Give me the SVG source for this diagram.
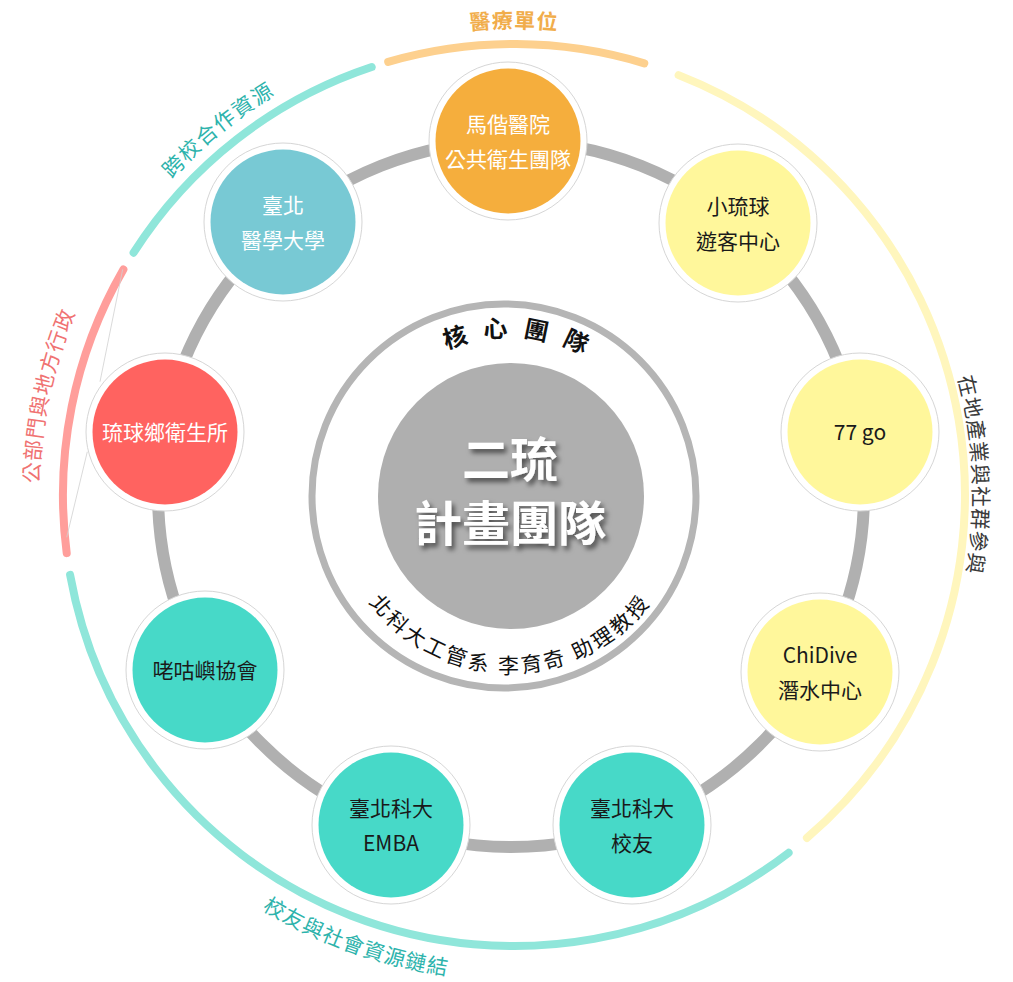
<svg xmlns="http://www.w3.org/2000/svg" width="1013" height="982" viewBox="0 0 1013 982">
<style>
text { font-family: "Noto Sans CJK TC", "Noto Sans CJK SC", "Noto Sans", sans-serif; }
.halo { fill:#ffffff; stroke:#d6d6d6; stroke-width:1; }
.nt { font-size:21px; text-anchor:middle; }
.w { fill:#ffffff; }
.d { fill:#1a1a1a; }
.arc { fill:none; stroke-width:8; stroke-linecap:round; }
.lbl { font-size:21px; letter-spacing:1px; }
</style>
<defs>
<filter id="sh" x="-20%" y="-20%" width="140%" height="150%">
<feDropShadow dx="3" dy="4" stdDeviation="2.5" flood-color="#000" flood-opacity="0.55"/>
</filter>
<path id="pTop" d="M354.3,56.2 A467,467 0 0 1 673.7,56.2"/>
<path id="pTL" d="M76.1,335.6 A466,466 0 0 1 449.1,33.5"/>
<path id="pL" d="M67.6,657.5 A475,475 0 0 1 172.3,165.0"/>
<path id="pR" d="M911.5,265.5 A459,459 0 0 1 930.0,689.0"/>
<path id="pB" d="M142.5,806.8 A485,485 0 0 0 604.9,971.4"/>
<path id="pCore" d="M378.3,406.2 A160,160 0 0 1 654.5,428.4"/>
<path id="pProf" d="M344.6,557.2 A176,176 0 0 0 675.4,557.2"/>
</defs>

<g id="outer-arcs">
<path class="arc" stroke="#fdd08e" d="M388.2,61.9 A451,451 0 0 1 644.3,63.3"/>
<path class="arc" stroke="#fff6bd" d="M678.6,75.1 A451,451 0 0 1 806.9,837.9"/>
<path class="arc" stroke="#8fe6da" d="M788.6,852.8 A451,451 0 0 1 70.1,574.9"/>
<path class="arc" stroke="#ff9e9b" d="M66.7,553.1 A451,451 0 0 1 123.4,269.5"/>
<path class="arc" stroke="#8fe6da" d="M133.6,252.7 A451,451 0 0 1 371.7,67.0"/>
<line x1="122.7" y1="269.3" x2="100" y2="381.7" stroke="#d0d0d0" stroke-width="0.8"/>
<line x1="87.3" y1="451.7" x2="66.7" y2="537.3" stroke="#d0d0d0" stroke-width="0.8"/>
</g>

<g id="outer-labels">
<text class="lbl" fill="#f1ad4b" font-weight="700"><textPath href="#pTop" startOffset="50%" text-anchor="middle">醫療單位</textPath></text>
<text class="lbl" fill="#2db3ac" style="letter-spacing:1.5px"><textPath href="#pTL" startOffset="50%" text-anchor="middle">跨校合作資源</textPath></text>
<text class="lbl" fill="#f07272"><textPath href="#pL" startOffset="50%" text-anchor="middle">公部門與地方行政</textPath></text>
<text class="lbl" fill="#3a3a3a"><textPath href="#pR" startOffset="50%" text-anchor="middle">在地產業與社群參與</textPath></text>
<text class="lbl" fill="#2db3ac"><textPath href="#pB" startOffset="50%" text-anchor="middle">校友與社會資源鏈結</textPath></text>
</g>

<g id="connectors">
<circle cx="511" cy="494" r="353" fill="none" stroke="#b0b0b0" stroke-width="12"/>
</g>

<g id="core">
<circle cx="504" cy="496" r="192" fill="#ffffff" stroke="#b5b5b5" stroke-width="7"/>
<circle cx="511" cy="496" r="133" fill="#afafaf"/>
<text font-size="24" font-weight="700" fill="#111" style="letter-spacing:15px"><textPath href="#pCore" startOffset="50%" text-anchor="middle">核心團隊</textPath></text>
<text font-size="21" fill="#111" style="letter-spacing:3px"><textPath href="#pProf" startOffset="50%" text-anchor="middle">北科大工管系 李育奇 助理教授</textPath></text>
<g filter="url(#sh)" font-size="48" font-weight="700" fill="#ffffff" text-anchor="middle">
<text x="510" y="477">二琉</text>
<text x="510" y="541">計畫團隊</text>
</g>
</g>

<g id="node-mackay">
<circle class="halo" cx="508" cy="141" r="79"/>
<circle cx="508" cy="141" r="72.5" fill="#f5ae3d"/>
<text class="nt w" x="508" y="132">馬偕醫院</text>
<text class="nt w" x="508" y="167">公共衛生團隊</text>
</g>

<g id="node-visitor">
<circle class="halo" cx="738" cy="223" r="79"/>
<circle cx="738" cy="223" r="72.5" fill="#fff79b"/>
<text class="nt d" x="738" y="214">小琉球</text>
<text class="nt d" x="738" y="249">遊客中心</text>
</g>

<g id="node-77go">
<circle class="halo" cx="860" cy="432" r="79"/>
<circle cx="860" cy="432" r="72.5" fill="#fff79b"/>
<text class="nt d" x="860" y="440">77 go</text>
</g>

<g id="node-chidive">
<circle class="halo" cx="820" cy="672" r="79"/>
<circle cx="820" cy="672" r="72.5" fill="#fff79b"/>
<text class="nt d" x="820" y="663">ChiDive</text>
<text class="nt d" x="820" y="698">潛水中心</text>
</g>

<g id="node-alumni">
<circle class="halo" cx="632" cy="825" r="79"/>
<circle cx="632" cy="825" r="72.5" fill="#47d9c8"/>
<text class="nt d" x="632" y="816">臺北科大</text>
<text class="nt d" x="632" y="851">校友</text>
</g>

<g id="node-emba">
<circle class="halo" cx="391" cy="825" r="79"/>
<circle cx="391" cy="825" r="72.5" fill="#47d9c8"/>
<text class="nt d" x="391" y="816">臺北科大</text>
<text class="nt d" x="391" y="851">EMBA</text>
</g>

<g id="node-laogu">
<circle class="halo" cx="205" cy="670" r="79"/>
<circle cx="205" cy="670" r="72.5" fill="#47d9c8"/>
<text class="nt d" x="205" y="678">咾咕嶼協會</text>
</g>

<g id="node-health">
<circle class="halo" cx="165" cy="432" r="79"/>
<circle cx="165" cy="432" r="72.5" fill="#ff6360"/>
<text class="nt w" x="165" y="440">琉球鄉衛生所</text>
</g>

<g id="node-tmu">
<circle class="halo" cx="283" cy="222" r="79"/>
<circle cx="283" cy="222" r="72.5" fill="#78c9d4"/>
<text class="nt w" x="283" y="213">臺北</text>
<text class="nt w" x="283" y="248">醫學大學</text>
</g>
</svg>
